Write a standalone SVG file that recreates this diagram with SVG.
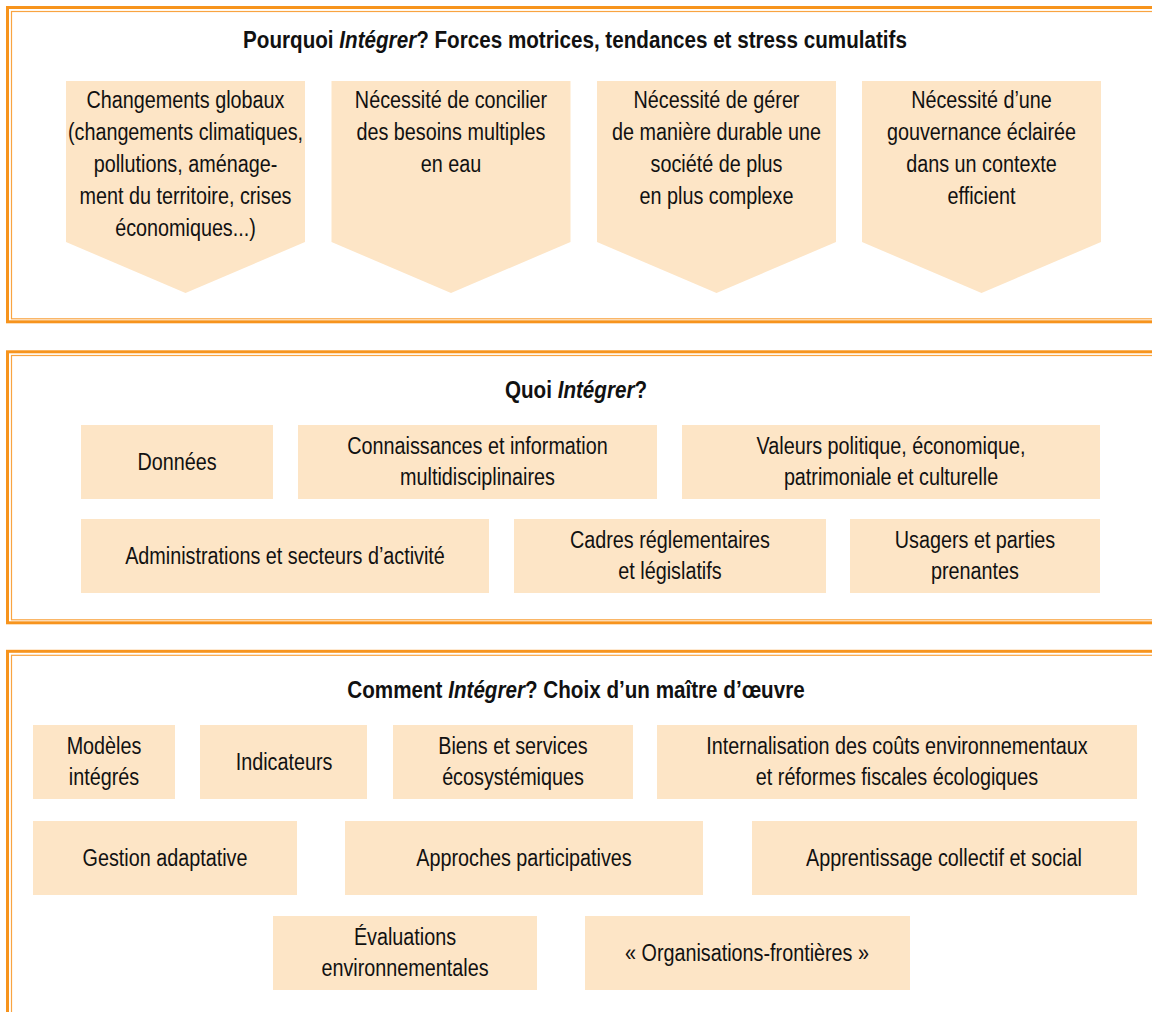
<svg xmlns="http://www.w3.org/2000/svg" width="1152" height="1012" viewBox="0 0 1152 1012">
<style>
.thick{fill:none;stroke:#F7941D;stroke-width:3}
.thin{fill:none;stroke:#F9A441;stroke-width:1.2}
.box{fill:#FDE5C6}
text{font-family:"Liberation Sans",Arial,sans-serif;fill:#111;text-anchor:middle}
.t{font-size:23px}
.h{font-size:24px;font-weight:bold}
</style>
<rect width="1152" height="1012" fill="#fff"/>
<g id="frames">
<rect class="thick" x="7.5" y="7.5" width="1160" height="314.3"/>
<rect class="thin" x="11.5" y="11.5" width="1160" height="307.3"/>
<rect class="thick" x="7.5" y="351.8" width="1160" height="271"/>
<rect class="thin" x="11.5" y="355.5" width="1160" height="264.3"/>
<rect class="thick" x="7.5" y="651.3" width="1160" height="400"/>
<rect class="thin" x="11.5" y="655.3" width="1160" height="400"/>
</g>
<g id="titles">
<text class="h" transform="translate(575 0) scale(0.86 1)" y="48">Pourquoi <tspan font-style="italic">Intégrer</tspan>? Forces motrices, tendances et stress cumulatifs</text>
<text class="h" transform="translate(576 0) scale(0.86 1)" y="398">Quoi <tspan font-style="italic">Intégrer</tspan>?</text>
<text class="h" transform="translate(576 0) scale(0.86 1)" y="698">Comment <tspan font-style="italic">Intégrer</tspan>? Choix d’un maître d’œuvre</text>
</g>
<g id="chevron1">
<polygon class="box" points="66,81 305,81 305,242 185.5,293 66,242"/>
<g transform="translate(185.5 0) scale(0.86 1)">
<text class="t" y="108">Changements globaux</text>
<text class="t" y="140">(changements climatiques,</text>
<text class="t" y="172">pollutions, aménage-</text>
<text class="t" y="204">ment du territoire, crises</text>
<text class="t" y="236">économiques...)</text>
</g>
</g>
<g id="chevron2">
<polygon class="box" points="331.5,81 570.5,81 570.5,242 451,293 331.5,242"/>
<g transform="translate(451 0) scale(0.86 1)">
<text class="t" y="108">Nécessité de concilier</text>
<text class="t" y="140">des besoins multiples</text>
<text class="t" y="172">en eau</text>
</g>
</g>
<g id="chevron3">
<polygon class="box" points="597,81 836,81 836,242 716.5,293 597,242"/>
<g transform="translate(716.5 0) scale(0.86 1)">
<text class="t" y="108">Nécessité de gérer</text>
<text class="t" y="140">de manière durable une</text>
<text class="t" y="172">société de plus</text>
<text class="t" y="204">en plus complexe</text>
</g>
</g>
<g id="chevron4">
<polygon class="box" points="862,81 1101,81 1101,242 981.5,293 862,242"/>
<g transform="translate(981.5 0) scale(0.86 1)">
<text class="t" y="108">Nécessité d’une</text>
<text class="t" y="140">gouvernance éclairée</text>
<text class="t" y="172">dans un contexte</text>
<text class="t" y="204">efficient</text>
</g>
</g>
<g id="donnees">
<rect class="box" x="81" y="425" width="192" height="74"/>
<text class="t" transform="translate(177 0) scale(0.86 1)" y="470">Données</text>
</g>
<g id="connaissances">
<rect class="box" x="298" y="425" width="359" height="74"/>
<g transform="translate(477.5 0) scale(0.86 1)">
<text class="t" y="454">Connaissances et information</text>
<text class="t" y="485">multidisciplinaires</text>
</g>
</g>
<g id="valeurs">
<rect class="box" x="682" y="425" width="418" height="74"/>
<g transform="translate(891 0) scale(0.86 1)">
<text class="t" y="454">Valeurs politique, économique,</text>
<text class="t" y="485">patrimoniale et culturelle</text>
</g>
</g>
<g id="administrations">
<rect class="box" x="81" y="519" width="408" height="74"/>
<text class="t" transform="translate(285 0) scale(0.86 1)" y="564">Administrations et secteurs d’activité</text>
</g>
<g id="cadres">
<rect class="box" x="514" y="519" width="312" height="74"/>
<g transform="translate(670 0) scale(0.86 1)">
<text class="t" y="548">Cadres réglementaires</text>
<text class="t" y="579">et législatifs</text>
</g>
</g>
<g id="usagers">
<rect class="box" x="850" y="519" width="250" height="74"/>
<g transform="translate(975 0) scale(0.86 1)">
<text class="t" y="548">Usagers et parties</text>
<text class="t" y="579">prenantes</text>
</g>
</g>
<g id="modeles">
<rect class="box" x="33" y="725" width="142" height="74"/>
<g transform="translate(104 0) scale(0.86 1)">
<text class="t" y="754">Modèles</text>
<text class="t" y="785">intégrés</text>
</g>
</g>
<g id="indicateurs">
<rect class="box" x="200" y="725" width="167" height="74"/>
<text class="t" transform="translate(284 0) scale(0.86 1)" y="770">Indicateurs</text>
</g>
<g id="biens">
<rect class="box" x="393" y="725" width="240" height="74"/>
<g transform="translate(513 0) scale(0.86 1)">
<text class="t" y="754">Biens et services</text>
<text class="t" y="785">écosystémiques</text>
</g>
</g>
<g id="internalisation">
<rect class="box" x="657" y="725" width="480" height="74"/>
<g transform="translate(897 0) scale(0.86 1)">
<text class="t" y="754">Internalisation des coûts environnementaux</text>
<text class="t" y="785">et réformes fiscales écologiques</text>
</g>
</g>
<g id="gestion">
<rect class="box" x="33" y="821" width="264" height="74"/>
<text class="t" transform="translate(165 0) scale(0.86 1)" y="866">Gestion adaptative</text>
</g>
<g id="approches">
<rect class="box" x="345" y="821" width="358" height="74"/>
<text class="t" transform="translate(524 0) scale(0.86 1)" y="866">Approches participatives</text>
</g>
<g id="apprentissage">
<rect class="box" x="752" y="821" width="385" height="74"/>
<text class="t" transform="translate(944 0) scale(0.86 1)" y="866">Apprentissage collectif et social</text>
</g>
<g id="evaluations">
<rect class="box" x="273" y="916" width="264" height="74"/>
<g transform="translate(405 0) scale(0.86 1)">
<text class="t" y="945">Évaluations</text>
<text class="t" y="976">environnementales</text>
</g>
</g>
<g id="organisations">
<rect class="box" x="585" y="916" width="325" height="74"/>
<text class="t" transform="translate(747 0) scale(0.86 1)" y="961">« Organisations-frontières »</text>
</g>
<g id="connectors"/>
</svg>
